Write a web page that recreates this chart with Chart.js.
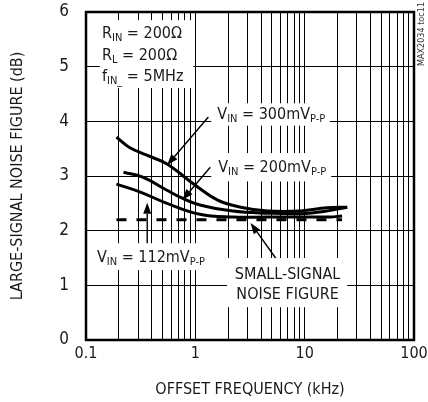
<!DOCTYPE html>
<html>
<head>
<meta charset="utf-8">
<script src="https://cdn.jsdelivr.net/npm/chart.js@4.4.0/dist/chart.umd.min.js"></script>
<style>
  html, body { margin: 0; padding: 0; background: #fff; }
  #wrap { width: 428px; height: 402px; }
</style>
</head>
<body>
<div id="wrap"><canvas id="mycanvas" width="428" height="402"></canvas></div>
<script>
// offset frequency (kHz) and noise figure (dB)
var f300 = [0.19, 0.25, 0.36, 0.55, 1.0, 1.6, 2.6, 4.6, 9.2, 16, 24.5];
var nf300 = [3.71, 3.52, 3.38, 3.22, 2.83, 2.56, 2.43, 2.36, 2.36, 2.42, 2.43];
var f200 = [0.22, 0.33, 0.55, 0.75, 1.1, 2.2, 4.6, 9.2, 15, 24.5];
var nf200 = [3.07, 2.98, 2.74, 2.6, 2.47, 2.36, 2.32, 2.31, 2.35, 2.43];
var f112 = [0.19, 0.31, 0.55, 1.1, 2.2, 4.6, 9.2, 17, 22];
var nf112 = [2.85, 2.71, 2.5, 2.3, 2.25, 2.25, 2.25, 2.25, 2.27];
var fSmall = [0.19, 22];
var nfSmall = [2.2, 2.2];

var xGrid = [0.1,0.2,0.3,0.4,0.5,0.6,0.7,0.8,0.9,1,2,3,4,5,6,7,8,9,10,20,30,40,50,60,70,80,90,100];
var xLabels = [0.1, 1, 10, 100];

var FONT = '"Liberation Sans Narrow", "DejaVu Sans Condensed", "Arial Narrow", sans-serif';
var INK = '#1a1a1a';

function pts(xs, ys) {
	var out = [];
	for (var i in xs) out.push({x: xs[i], y: ys[i]});
	return out;
}

function curve(xs, ys, dash) {
	return {
		data: pts(xs, ys),
		borderColor: '#000',
		borderWidth: 3,
		borderDash: dash || [],
		pointRadius: 0,
		fill: false,
		tension: dash ? 0 : 0.4
	};
}

// annotation layout, in data units (kHz, dB)
var boxes = [
	[0.134, 5.85, 0.96, 4.61],
	[1.40, 4.33, 17.0, 3.92],
	[1.40, 3.42, 17.5, 2.90],
	[0.114, 1.77, 1.18, 1.28],
	[1.95, 1.50, 24.5, 0.60]
];
var texts = [
	{x: 0.14, y: 5.64, parts: [['R'], ['IN', 1], [' = 200\u03A9']]},
	{x: 0.14, y: 5.23, parts: [['R'], ['L', 1], [' = 200\u03A9']]},
	{x: 0.14, y: 4.85, parts: [['f'], ['IN_', 1], [' = 5MHz']]},
	{x: 1.59, y: 4.15, parts: [['V'], ['IN', 1], [' = 300mV'], ['P-P', 1]]},
	{x: 1.62, y: 3.18, parts: [['V'], ['IN', 1], [' = 200mV'], ['P-P', 1]]},
	{x: 0.126, y: 1.53, parts: [['V'], ['IN', 1], [' = 112mV'], ['P-P', 1]]},
	{x: 6.98, y: 1.23, center: true, parts: [['SMALL-SIGNAL']]},
	{x: 6.98, y: 0.86, center: true, parts: [['NOISE FIGURE']]}
];
var arrows = [
	[1.316, 4.08, 0.553, 3.20],
	[1.37, 3.16, 0.76, 2.56],
	[0.363, 1.77, 0.363, 2.51],
	[5.42, 1.50, 3.2, 2.14]
];

function richWidth(ctx, parts) {
	var w = 0;
	parts.forEach(function(p) {
		ctx.font = (p[1] ? '11px ' : '16px ') + FONT;
		w += ctx.measureText(p[0]).width;
	});
	return w;
}

function drawRich(ctx, parts, x, y) {
	var base = y + 6;
	parts.forEach(function(p) {
		ctx.font = (p[1] ? '11px ' : '16px ') + FONT;
		ctx.fillText(p[0], x, p[1] ? base + 3 : base);
		x += ctx.measureText(p[0]).width;
	});
}

var notes = {
	id: 'notes',
	beforeDatasetsDraw: function(chart) {
		var ctx = chart.ctx, sx = chart.scales.x, sy = chart.scales.y;
		ctx.save();
		ctx.fillStyle = '#fff';
		boxes.forEach(function(b) {
			var x1 = sx.getPixelForValue(b[0]), y1 = sy.getPixelForValue(b[1]);
			var x2 = sx.getPixelForValue(b[2]), y2 = sy.getPixelForValue(b[3]);
			ctx.fillRect(x1, y1, x2 - x1, y2 - y1);
		});
		ctx.fillStyle = INK;
		ctx.textBaseline = 'alphabetic';
		ctx.textAlign = 'left';
		texts.forEach(function(t) {
			var x = sx.getPixelForValue(t.x), y = sy.getPixelForValue(t.y);
			if (t.center) x -= richWidth(ctx, t.parts) / 2;
			drawRich(ctx, t.parts, x, y);
		});
		ctx.strokeStyle = '#000';
		ctx.fillStyle = '#000';
		ctx.lineWidth = 1.4;
		arrows.forEach(function(a) {
			var x1 = sx.getPixelForValue(a[0]), y1 = sy.getPixelForValue(a[1]);
			var x2 = sx.getPixelForValue(a[2]), y2 = sy.getPixelForValue(a[3]);
			var ang = Math.atan2(y2 - y1, x2 - x1);
			var hl = 11, hw = 4;
			ctx.beginPath();
			ctx.moveTo(x1, y1);
			ctx.lineTo(x2 - hl * Math.cos(ang), y2 - hl * Math.sin(ang));
			ctx.stroke();
			ctx.beginPath();
			ctx.moveTo(x2, y2);
			ctx.lineTo(x2 - hl * Math.cos(ang) + hw * Math.sin(ang), y2 - hl * Math.sin(ang) - hw * Math.cos(ang));
			ctx.lineTo(x2 - hl * Math.cos(ang) - hw * Math.sin(ang), y2 - hl * Math.sin(ang) + hw * Math.cos(ang));
			ctx.closePath();
			ctx.fill();
		});
		ctx.restore();
	},
	afterDraw: function(chart) {
		var ctx = chart.ctx, a = chart.chartArea;
		ctx.save();
		ctx.strokeStyle = '#000';
		ctx.lineWidth = 2.5;
		ctx.strokeRect(a.left, a.top, a.right - a.left, a.bottom - a.top);
		// figure tag at the right edge
		ctx.translate(422, 34);
		ctx.rotate(-Math.PI / 2);
		ctx.font = '9px ' + FONT;
		ctx.fillStyle = '#333';
		ctx.textAlign = 'center';
		ctx.textBaseline = 'middle';
		ctx.fillText('MAX2034 toc11', 0, 0);
		ctx.restore();
	}
};

var ctx = document.getElementById('mycanvas');

var NoiseGraph = new Chart(ctx, {
	type: 'line',
	data: {
		datasets: [
			curve(f300, nf300),
			curve(f200, nf200),
			curve(f112, nf112),
			curve(fSmall, nfSmall, [10, 10])
		]
	},
	options: {
		responsive: false,
		animation: false,
		layout: {padding: {left: 0, right: 14, top: 12, bottom: 0}},
		plugins: {legend: {display: false}, tooltip: {enabled: false}},
		scales: {
			x: {
				type: 'logarithmic',
				min: 0.1,
				max: 100,
				afterBuildTicks: function(scale) {
					scale.ticks = xGrid.map(function(v) { return {value: v}; });
				},
				afterFit: function(scale) { scale.height = 62; },
				grid: {color: '#000', lineWidth: 1, tickLength: 4, tickColor: 'rgba(0,0,0,0)'},
				border: {display: false},
				ticks: {
					autoSkip: false,
					maxRotation: 0,
					padding: 0,
					color: INK,
					font: {family: FONT, size: 16},
					callback: function(v) {
						return xLabels.indexOf(v) >= 0 ? String(v) : '';
					}
				},
				title: {
					display: true,
					text: 'OFFSET FREQUENCY (kHz)',
					color: INK,
					font: {family: FONT, size: 16},
					padding: {top: 0, bottom: 3}
				}
			},
			y: {
				min: 0,
				max: 6,
				afterFit: function(scale) { scale.width = 86; },
				grid: {color: '#000', lineWidth: 1, tickLength: 17, tickColor: 'rgba(0,0,0,0)'},
				border: {display: false},
				ticks: {
					stepSize: 1,
					padding: 0,
					color: INK,
					font: {family: FONT, size: 17}
				},
				title: {
					display: true,
					text: 'LARGE-SIGNAL NOISE FIGURE (dB)',
					color: INK,
					font: {family: FONT, size: 16},
					padding: {top: 8, bottom: 0}
				}
			}
		}
	},
	plugins: [notes]
});
</script>
</body>
</html>
